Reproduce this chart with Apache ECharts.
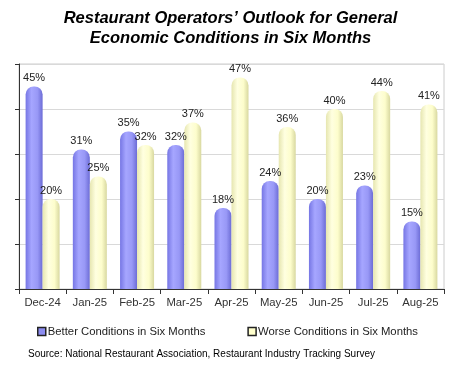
<!DOCTYPE html>
<html><head><meta charset="utf-8">
<script src="https://cdn.jsdelivr.net/npm/echarts@6/dist/echarts.min.js"></script>
<style>html,body{margin:0;padding:0;background:#fff}#c{width:461px;height:369px}</style>
</head><body><div id="c"></div>
<script>
const categories = ['Dec-24','Jan-25','Feb-25','Mar-25','Apr-25','May-25','Jun-25','Jul-25','Aug-25'];
const better = [45,31,35,32,18,24,20,23,15];
const worse = [20,25,32,37,47,36,40,44,41];
const seriesNames = ['Better Conditions in Six Months','Worse Conditions in Six Months'];

const chart = echarts.init(document.getElementById('c'));
const blueGrad = new echarts.graphic.LinearGradient(0,0,1,0,[
  {offset:0,color:'#7676e4'},{offset:0.35,color:'#a6a6ff'},{offset:0.7,color:'#9898f6'},{offset:1,color:'#6c6cd6'}]);
const yellowGrad = new echarts.graphic.LinearGradient(0,0,1,0,[
  {offset:0,color:'#e6e6b0'},{offset:0.35,color:'#ffffe0'},{offset:0.7,color:'#fdfdcc'},{offset:1,color:'#d8d8a0'}]);
const lbl = {show:true,position:'top',distance:3,formatter:'{c}%',color:'#222',fontSize:11,fontFamily:'Liberation Sans'};
chart.setOption({
  animation:false,
  title:{text:'Restaurant Operators\u2019 Outlook for General\nEconomic Conditions in Six Months',left:'center',top:3,
    textStyle:{fontFamily:'Liberation Sans',fontWeight:'bold',fontStyle:'italic',fontSize:16.5,lineHeight:20,color:'#000'}},
  grid:{left:19,right:17,top:64,bottom:80,show:true,borderColor:'#cccccc',borderWidth:1},
  legend:{top:321,left:32,itemWidth:8,itemHeight:8,itemGap:42,icon:'rect',
    textStyle:{fontFamily:'Liberation Sans',fontSize:11.3,color:'#222',padding:[0,0,0,-3]},
    data:[{name:seriesNames[0],itemStyle:{color:'#8c8cf0',borderColor:'#222',borderWidth:1.5}},
          {name:seriesNames[1],itemStyle:{color:'#ffffcc',borderColor:'#222',borderWidth:1.5}}]},
  graphic:[{type:'text',left:28,top:349,style:{text:'Source: National Restaurant Association, Restaurant Industry Tracking Survey',
    font:'10px "Liberation Sans"',fill:'#000'}}],
  xAxis:{type:'category',data:categories,
    axisLine:{lineStyle:{color:'#333'}},axisTick:{show:true,lineStyle:{color:'#333'}},
    axisLabel:{interval:0,fontFamily:'Liberation Sans',fontSize:11.3,color:'#333',margin:8}},
  yAxis:{type:'value',min:0,max:50,interval:10,
    axisLine:{show:true,lineStyle:{color:'#333'}},axisTick:{show:true,length:4,lineStyle:{color:'#333'}},
    axisLabel:{show:false},splitLine:{lineStyle:{color:'#d9d9d9'}}},
  series:[
    {name:seriesNames[0],type:'bar',data:better,barGap:'0%',barCategoryGap:'28%',
      itemStyle:{color:blueGrad,borderRadius:[8,8,0,0]},label:lbl},
    {name:seriesNames[1],type:'bar',data:worse,
      itemStyle:{color:yellowGrad,borderRadius:[8,8,0,0]},label:lbl}
  ]
});
</script></body></html>
